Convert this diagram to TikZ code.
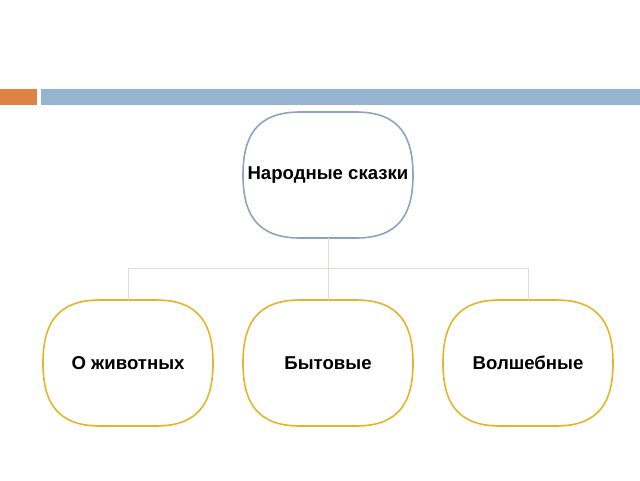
\documentclass[tikz,border=0pt]{standalone}
\usepackage{fontspec}
\setmainfont{Liberation Sans}
\newcommand{\myblob}[2]{%
  \draw[line width=1.6pt,draw=#2,fill=white,shift={(#1.center)}]
    (-28,-63) -- (28,-63) .. controls (72,-63) and (85,-38) .. (85,0)
    .. controls (85,38) and (72,63) .. (28,63) -- (-28,63)
    .. controls (-72,63) and (-85,38) .. (-85,0)
    .. controls (-85,-38) and (-72,-63) .. (-28,-63) -- cycle;}
\begin{document}
\begin{tikzpicture}[x=1pt,y=-1pt,
  oval/.style={minimum width=170pt,minimum height=126pt,inner sep=0pt,font=\bfseries\fontsize{18.6}{20}\selectfont},
  conn/.style={draw={rgb,255:red,225;green,222;blue,205},line width=0.8pt}]
\definecolor{topc}{RGB}{140,165,190}
\definecolor{botc}{RGB}{230,180,40}
\useasboundingbox (0,0) rectangle (640,480);
\fill[fill={rgb,255:red,222;green,130;blue,70}] (0,89) rectangle (37,105);
\fill[fill={rgb,255:red,148;green,180;blue,208}] (41,89) rectangle (640,105);
\coordinate (j) at (328,268);
\coordinate (jl) at (128,268);
\coordinate (jr) at (528,268);
\coordinate (pn) at (328,175);
\coordinate (pa) at (128,363);
\coordinate (pb) at (328,363);
\coordinate (pc) at (528,363);
\myblob{pn}{topc}
\myblob{pa}{botc}
\myblob{pb}{botc}
\myblob{pc}{botc}
\node[oval] (n) at (pn) {Народные сказки};
\node[oval] (a) at (pa) {О животных};
\node[oval] (b) at (pb) {Бытовые};
\node[oval] (c) at (pc) {Волшебные};
\draw[conn] (n.south) -- (j) (jl) -- (jr) (jl) -- (a.north) (j) -- (b.north) (jr) -- (c.north);
\end{tikzpicture}
\end{document}
